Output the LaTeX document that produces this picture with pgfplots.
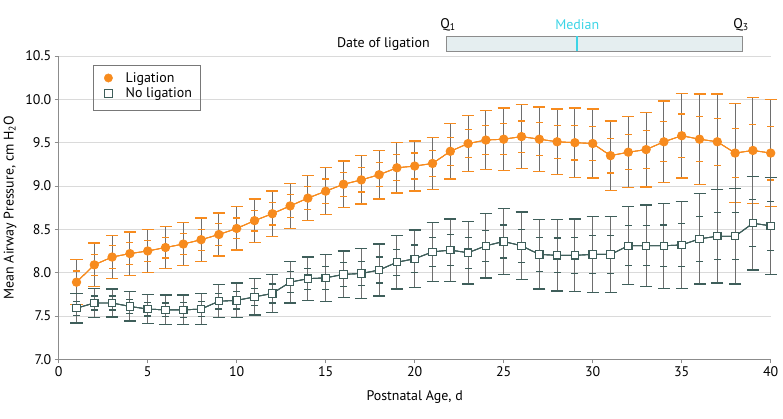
\documentclass[border=0pt]{standalone}
\usepackage{fontspec}
\setmainfont{PT Sans}
\usepackage{pgfplots}
\pgfplotsset{compat=1.18}
\usepackage{pgfplotstable}
\definecolor{lig}{RGB}{247,139,30}
\definecolor{nolig}{RGB}{62,94,90}
\definecolor{ebgray}{RGB}{110,110,110}
\definecolor{gridc}{RGB}{218,218,218}
\definecolor{axc}{RGB}{140,140,140}
\definecolor{legc}{RGB}{120,120,120}
\definecolor{boxfill}{RGB}{229,238,240}
\definecolor{medc}{RGB}{60,212,230}

\pgfplotstableread{
x y e i
1 7.89 0.26 0.13
2 8.09 0.25 0.12
3 8.18 0.25 0.13
4 8.22 0.25 0.13
5 8.25 0.25 0.12
6 8.29 0.24 0.12
7 8.33 0.25 0.12
8 8.38 0.25 0.12
9 8.44 0.25 0.13
10 8.51 0.25 0.12
11 8.60 0.25 0.12
12 8.68 0.26 0.13
13 8.77 0.26 0.13
14 8.86 0.26 0.13
15 8.94 0.27 0.14
16 9.02 0.27 0.14
17 9.07 0.28 0.14
18 9.13 0.28 0.14
19 9.21 0.29 0.15
20 9.23 0.29 0.15
21 9.26 0.30 0.15
22 9.40 0.32 0.16
23 9.49 0.32 0.16
24 9.53 0.34 0.17
25 9.54 0.36 0.18
26 9.57 0.37 0.18
27 9.54 0.37 0.19
28 9.51 0.38 0.19
29 9.50 0.40 0.20
30 9.49 0.40 0.20
31 9.35 0.40 0.20
32 9.39 0.41 0.20
33 9.42 0.43 0.22
34 9.51 0.47 0.23
35 9.58 0.49 0.25
36 9.54 0.52 0.26
37 9.51 0.55 0.27
38 9.38 0.57 0.28
39 9.41 0.61 0.30
40 9.38 0.62 0.31
}\ligtab

\pgfplotstableread{
x y e i
1 7.59 0.17 0.08
2 7.65 0.17 0.08
3 7.65 0.16 0.08
4 7.61 0.17 0.08
5 7.58 0.17 0.08
6 7.57 0.17 0.08
7 7.57 0.17 0.09
8 7.58 0.18 0.09
9 7.67 0.19 0.09
10 7.68 0.20 0.10
11 7.72 0.21 0.10
12 7.76 0.22 0.11
13 7.89 0.24 0.12
14 7.93 0.25 0.12
15 7.94 0.27 0.13
16 7.98 0.27 0.14
17 7.99 0.29 0.14
18 8.03 0.30 0.15
19 8.12 0.31 0.15
20 8.16 0.33 0.16
21 8.24 0.34 0.17
22 8.26 0.36 0.18
23 8.23 0.36 0.18
24 8.31 0.37 0.18
25 8.36 0.38 0.19
26 8.31 0.39 0.19
27 8.21 0.40 0.20
28 8.20 0.41 0.20
29 8.20 0.42 0.21
30 8.21 0.44 0.22
31 8.21 0.44 0.22
32 8.31 0.45 0.23
33 8.31 0.47 0.23
34 8.31 0.49 0.24
35 8.32 0.50 0.25
36 8.39 0.52 0.26
37 8.42 0.54 0.27
38 8.42 0.55 0.27
39 8.57 0.54 0.27
40 8.54 0.56 0.28
}\noligtab

\begin{document}
\begin{tikzpicture}[font=\fontsize{14}{16}\selectfont]
\useasboundingbox (0,0) rectangle (783bp,419bp);
\begin{axis}[
  at={(58.7bp,59.7bp)}, anchor=south west,
  width=712bp, height=303.3bp, scale only axis,
  xmin=0, xmax=40, ymin=7, ymax=10.5,
  xtick={0,5,...,40}, ytick={7,7.5,...,10.5},
  yticklabel style={/pgf/number format/.cd,fixed,fixed zerofill,precision=1},
  /pgf/number format/assume math mode=true,
  ticklabel style={font=\fontsize{14}{16}\selectfont},
  axis x line*=bottom, axis y line*=left,
  axis line style={draw=axc, line width=0.8bp, -},
  tick style={draw=axc, line width=0.8bp},
  tick align=outside, major tick length=4bp,
  ymajorgrids, grid style={draw=gridc, line width=0.8bp},
  xlabel={Postnatal Age, d},
  ylabel={Mean Airway Pressure, cm H\textsubscript{2}O},
  xlabel style={at={(axis description cs:0.5,-0.123)}, anchor=center},
  ylabel style={at={(axis description cs:-0.0684,0.5)}, anchor=center},
  label style={font=\fontsize{14}{16}\selectfont},
  clip=false,
  legend style={at={(axis description cs:0.0496,0.970)}, anchor=north west,
    draw=none, fill=none, inner xsep=1bp, inner ysep=6bp,
    row sep=2bp, nodes={inner xsep=2bp, inner ysep=1bp},
    /tikz/every odd column/.append style={column sep=10.8bp},
    font=\fontsize{14}{16}\selectfont},
  legend cell align=left,
  legend image code/.code={\path (-13bp,0) (4.2bp,0); \draw[#1] plot coordinates {(0cm,0cm)};},
]
% legend frame
\draw[draw=legc, line width=1bp] (axis cs:1.983,9.875) rectangle (axis cs:7.94,10.394);
% error bars ligation
\addplot[forget plot, color=lig, mark=none, line width=0.9bp,
  error bars/.cd, y dir=both, y explicit,
  error bar style={color=ebgray, line width=0.9bp},
  error mark options={rotate=90, color=lig, mark size=6bp, line width=1.4bp}]
  table[x=x, y=y, y error=e]{\ligtab};
\addplot[forget plot, color=lig, mark=none, line width=0.9bp,
  error bars/.cd, y dir=both, y explicit,
  error bar style={color=ebgray, line width=0.9bp},
  error mark options={rotate=90, color=lig, mark size=3.5bp, line width=1.2bp}]
  table[x=x, y=y, y error=i]{\ligtab};
% error bars no ligation
\addplot[forget plot, color=nolig, mark=none, line width=0.9bp,
  error bars/.cd, y dir=both, y explicit,
  error bar style={color=ebgray, line width=0.9bp},
  error mark options={rotate=90, color=nolig, mark size=6bp, line width=1.4bp}]
  table[x=x, y=y, y error=e]{\noligtab};
\addplot[forget plot, color=nolig, mark=none, line width=0.9bp,
  error bars/.cd, y dir=both, y explicit,
  error bar style={color=ebgray, line width=0.9bp},
  error mark options={rotate=90, color=nolig, mark size=3.5bp, line width=1.2bp}]
  table[x=x, y=y, y error=i]{\noligtab};
% main series
\addplot[forget plot, color=lig, line width=0.9bp, mark=*, mark size=4.2bp,
  mark options={fill=lig, draw=lig}] table[x=x, y=y]{\ligtab};
\addplot[forget plot, color=nolig, line width=0.9bp, mark=square*, mark size=3.7bp,
  mark options={fill=white, draw=nolig, line width=1.1bp}] table[x=x, y=y]{\noligtab};

\addlegendimage{only marks, mark=*, mark size=4.2bp, mark options={fill=lig, draw=lig}}
\addlegendentry{Ligation}
\addlegendimage{only marks, mark=square*, mark size=3.7bp, mark options={fill=white, draw=nolig, line width=1.1bp}}
\addlegendentry{No ligation}

% date of ligation box
\draw[draw=axc, fill=boxfill, line width=0.8bp] (axis cs:21.8,10.556) rectangle (axis cs:38.4,10.729);
\draw[medc, line width=2bp] (axis cs:29.13,10.556) -- (axis cs:29.13,10.729);
\node[anchor=east, inner sep=0pt] at (axis cs:20.86,10.642) {Date of ligation};
\node[medc] at (axis cs:29.13,10.86) {Median};
\node at (axis cs:21.87,10.86) {Q\textsubscript{1}};
\node at (axis cs:38.33,10.86) {Q\textsubscript{3}};
\end{axis}
\end{tikzpicture}
\end{document}
